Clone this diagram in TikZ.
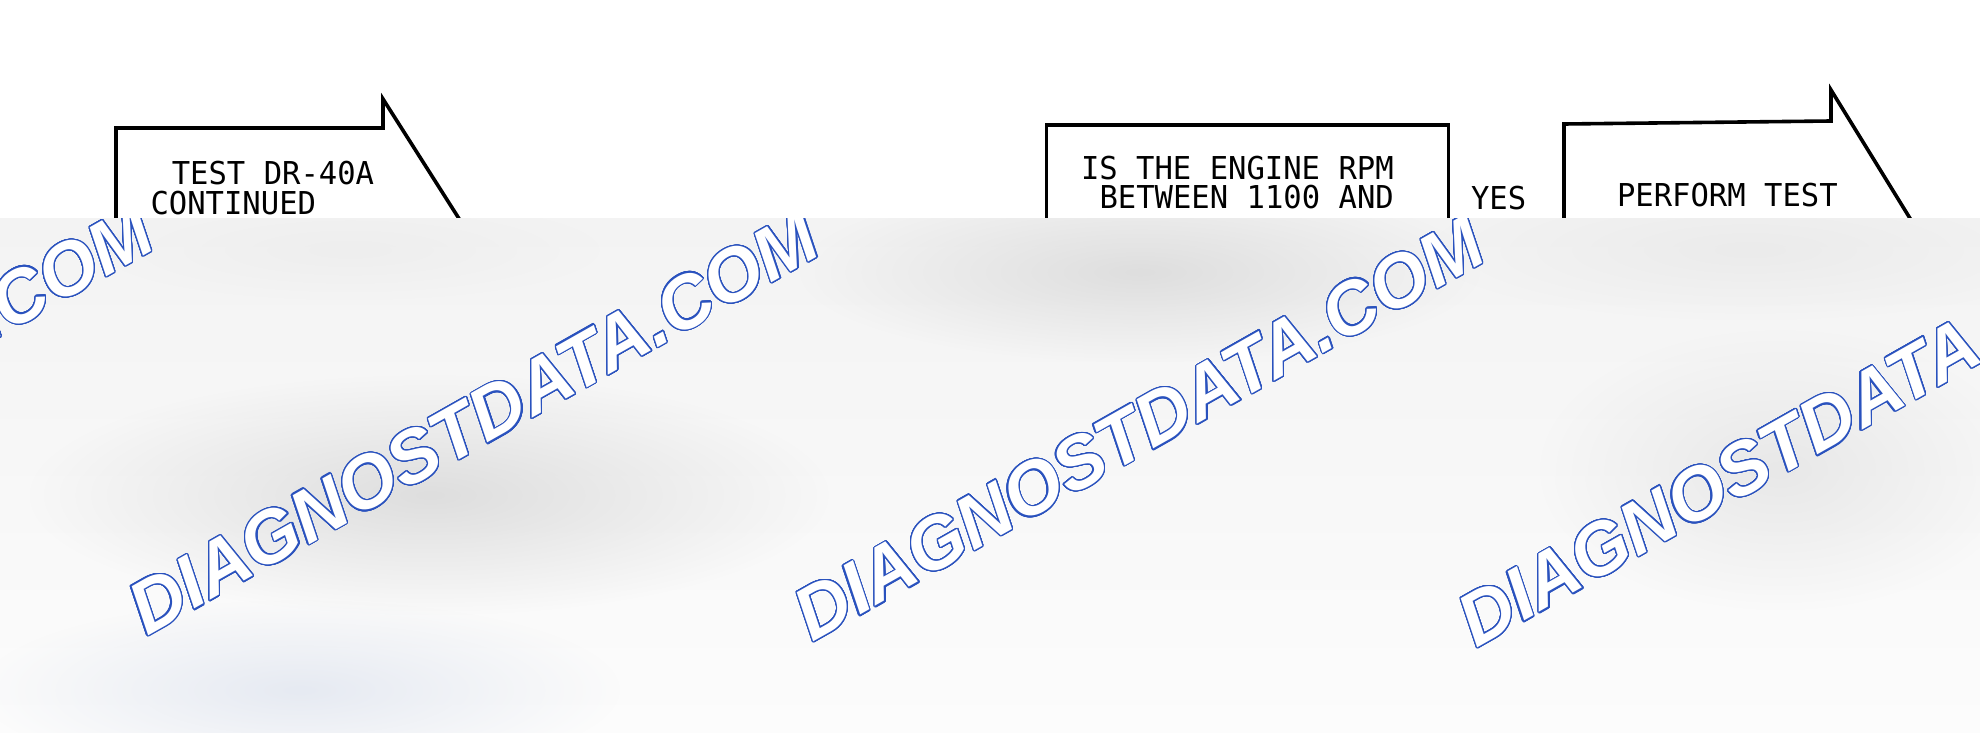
\documentclass[tikz,border=0pt]{standalone}
\usepackage{fontspec}
\usepackage{contour}
\usetikzlibrary{fadings}
\newfontfamily\leroy[FakeStretch=0.97]{DejaVu Sans Mono}
\newfontfamily\wmfont{Liberation Sans}
\definecolor{wmblue}{HTML}{2A52BE}
\definecolor{bandtop}{HTML}{F3F3F3}
\definecolor{bandbot}{HTML}{FCFCFC}
\definecolor{blobgray}{HTML}{DEDEDE}
\definecolor{blobblue}{HTML}{E6EAF2}
\tikzfading[name=softblob, inner color=transparent!0, outer color=transparent!100]
\contourlength{1.2pt}
\contournumber{32}
\tikzset{
  flow/.style={line width=3.6pt, line join=miter, draw=black},
  lbl/.style={font=\leroy\fontsize{31.5}{31.5}\selectfont, anchor=base west, inner sep=0pt, outer sep=0pt, text=black},
  wm/.style={font=\wmfont\bfseries\itshape\fontsize{74}{74}\selectfont, rotate=29.5, inner sep=0pt, text=white},
  blob/.style={fill=#1, path fading=softblob}
}
\begin{document}
\begin{tikzpicture}[x=1pt, y=-1pt]
\useasboundingbox (0,0) rectangle (1980,733);
\fill[white] (0,0) rectangle (1980,733);

% box 1 (continued-from flag)
\draw[flow] (116,300) -- (116,128) -- (383,128) -- (383,99) -- (498,280);
\node[lbl] (t1a) at (171.8,184.3) {TEST DR-40A};
\node[lbl] (t1b) at (150.5,214) {CONTINUED};

% box 2 (decision)
\draw[flow] (1046.5,300) -- (1046.5,125) -- (1448.5,125) -- (1448.5,300);
\node[lbl] (t2a) at (1081,179.3) {IS THE ENGINE RPM};
\node[lbl] (t2b) at (1099.5,208.3) {BETWEEN 1100 AND};

\node[lbl] (yes) at (1471,209) {YES};

% box 3 (perform test flag)
\draw[flow] (1564,300) -- (1564,124) -- (1831,121) -- (1831,90) -- (1943,272);
\node[lbl] (t3a) at (1617,206) {PERFORM TEST};

% overlay band
\begin{scope}
\clip (0,218.3) rectangle (1980,733);
\shade[top color=bandtop, bottom color=bandbot] (0,218.3) rectangle (1980,733);
\fill[blob=blobgray] (430,495) ellipse [x radius=400, y radius=120];
\fill[blob=blobgray] (1140,272) ellipse [x radius=340, y radius=90];
\fill[blob=blobgray!70] (1780,470) ellipse [x radius=240, y radius=140];
\fill[blob=blobgray!60] (1750,250) ellipse [x radius=320, y radius=70];
\fill[blob=blobgray!50] (350,250) ellipse [x radius=250, y radius=50];
\fill[blob=blobblue] (300,690) ellipse [x radius=320, y radius=90];
\node[wm] (w0) at (-192,417) {\contour{wmblue}{DIAGNOSTDATA.COM}};
\node[wm] (w1) at (473.5,423) {\contour{wmblue}{DIAGNOSTDATA.COM}};
\node[wm] (w2) at (1139,429) {\contour{wmblue}{DIAGNOSTDATA.COM}};
\node[wm] (w3) at (1803,435) {\contour{wmblue}{DIAGNOSTDATA.COM}};
\end{scope}
\end{tikzpicture}
\end{document}
